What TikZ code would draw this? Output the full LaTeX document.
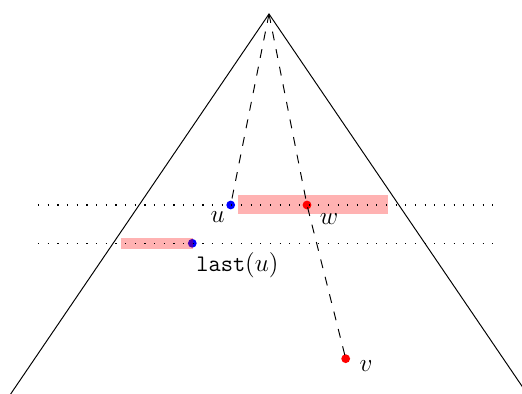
\documentclass[tikz,border=0pt]{standalone}
\usepackage{amsmath,amssymb}
\usepackage{xcolor}
\usepackage{tikz}
\usetikzlibrary{positioning}

\tikzset{
  level line/.style={line width=0.7pt, dash pattern=on 0.7pt off 4.8pt},
  walk/.style={line width=0.55pt, dash pattern=on 5.1pt off 5.1pt},
  window/.style={fill=red, opacity=0.3},
  tag/.style={font=\fontsize{13.5pt}{16pt}\selectfont},
}

\begin{document}
\begin{tikzpicture}[x=0.02cm, y=-0.02cm]
  \clip (0,0) rectangle (522,394);
  \coordinate (root) at (269,14);
  \coordinate (bl) at (10,395);
  \coordinate (br) at (528,395);
  \coordinate (u) at (230.7,205);
  \coordinate (w) at (307,205);
  \coordinate (lastu) at (192.3,243.3);
  \coordinate (v) at (345.7,358.7);
  \coordinate (l1a) at (38,205);   \coordinate (l1b) at (494,205);
  \coordinate (l2a) at (38,243.3); \coordinate (l2b) at (494,243.3);
  \draw[line width=0.55pt] (bl) -- (root) -- (br);
  \fill[blue] (u) circle (2.5pt);
  \fill[blue] (lastu) circle (2.5pt);
  \fill[red] (w) circle (2.5pt);
  \fill[red] (v) circle (2.5pt);
  \fill[window] (238,195) rectangle (388,214);
  \fill[window] (121,238) rectangle (193,249);
  \draw[level line] (l1a) -- (l1b);
  \draw[level line] (l2a) -- (l2b);
  \draw[walk] (root) -- (u);
  \draw[walk] (root) -- (w) -- (v);
  \node[tag] (ulab) at (217.7,217) {$u$};
  \node[tag] (wlab) at (329,219) {$w$};
  \node[tag] (lastlab) at (237.5,265) {$\texttt{last}(u)$};
  \node[tag] (vlab) at (366,366) {$v$};
\end{tikzpicture}
\end{document}
